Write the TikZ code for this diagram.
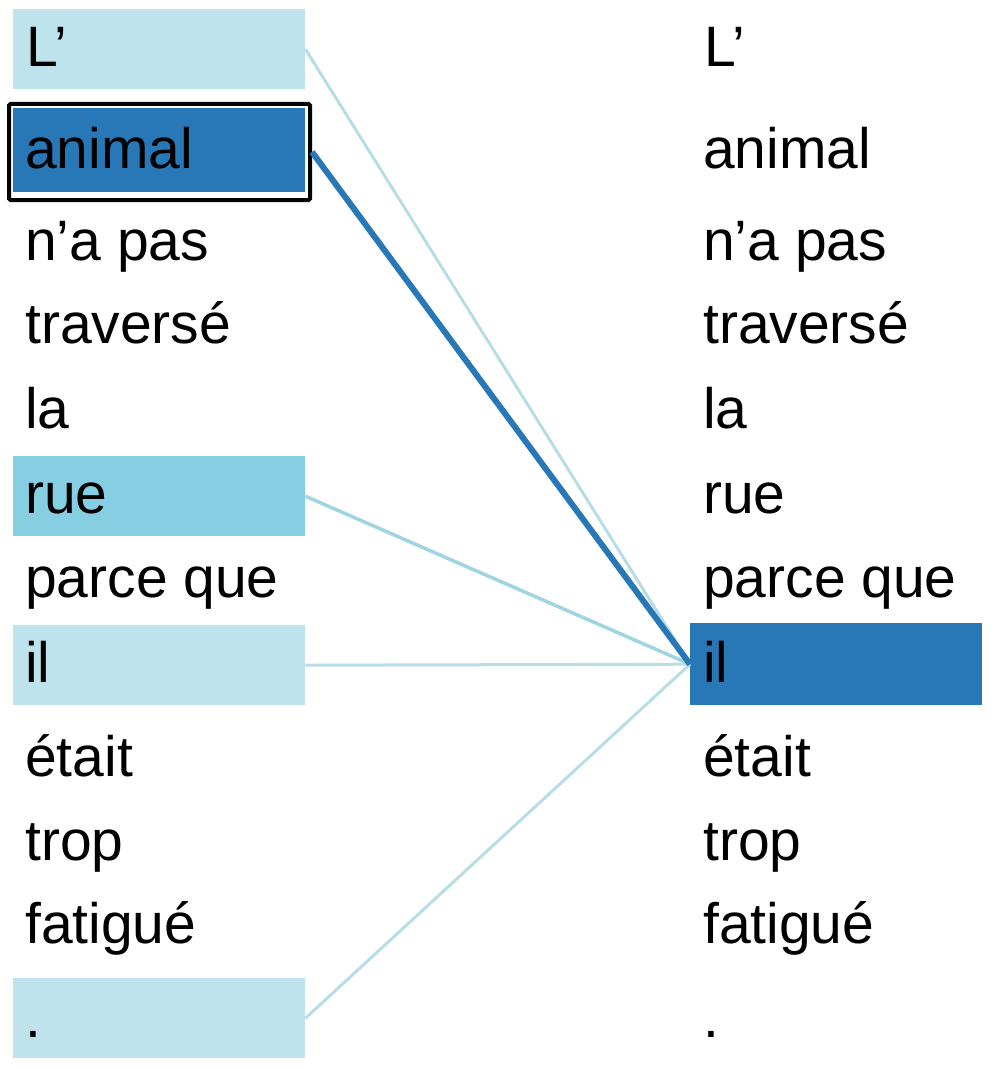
\documentclass[tikz,border=0pt]{standalone}
\usepackage{fontspec}
\setmainfont{Liberation Sans}
\definecolor{lightbox}{HTML}{BEE3EC}
\definecolor{ruebox}{HTML}{86CFE2}
\definecolor{darkbox}{HTML}{2878B8}
\definecolor{lightline}{HTML}{B6DDE8}
\definecolor{rueline}{HTML}{9FD4E3}
\begin{document}
\begin{tikzpicture}[x=1pt,y=-1pt,
  word/.style={anchor=base west, inner sep=0pt, font=\fontsize{57}{62}\selectfont},
  hbox/.style={anchor=north west, inner sep=0pt, minimum width=292pt, minimum height=80pt},
  thinlink/.style={draw=lightline, line width=3pt},
  ruelink/.style={draw=rueline, line width=3.5pt},
  darklink/.style={draw=darkbox, line width=6pt}]
\useasboundingbox (0,0) rectangle (992,1070);
% highlight boxes, left column
\node[hbox, fill=lightbox] (bL) at (13,9) {};
\node[hbox, fill=darkbox, minimum height=84pt] (bA) at (13,108) {};
\node[anchor=north west, inner sep=0pt, draw=black, line width=4pt, rounded corners=1.5pt, minimum width=301pt, minimum height=96pt] (bAo) at (7,102) {};
\node[hbox, fill=ruebox] (bR) at (13,456) {};
\node[hbox, fill=lightbox] (bI) at (13,625) {};
\node[hbox, fill=lightbox] (bD) at (13,978) {};
% highlight box, right column
\node[hbox, fill=darkbox, minimum height=82pt] (rI) at (690,623) {};
% words, left column
\node[word] (l0) at (26,67) {L’};
\node[word] (l1) at (25,168) {animal};
\node[word] (l2) at (25,260) {n’a pas};
\node[word] (l3) at (25,343) {traversé};
\node[word] (l4) at (25,428) {la};
\node[word] (l5) at (25,513) {rue};
\node[word] (l6) at (25,597) {parce que};
\node[word] (l7) at (25,682) {il};
\node[word] (l8) at (25,776) {était};
\node[word] (l9) at (25,860) {trop};
\node[word] (l10) at (25,943) {fatigué};
\node[word] (l11) at (25,1037) {.};
% words, right column
\node[word] (r0) at (704,67) {L’};
\node[word] (r1) at (703,168) {animal};
\node[word] (r2) at (703,260) {n’a pas};
\node[word] (r3) at (703,343) {traversé};
\node[word] (r4) at (703,428) {la};
\node[word] (r5) at (703,513) {rue};
\node[word] (r6) at (703,597) {parce que};
\node[word] (r7) at (703,682) {il};
\node[word] (r8) at (703,776) {était};
\node[word] (r9) at (703,860) {trop};
\node[word] (r10) at (703,943) {fatigué};
\node[word] (r11) at (703,1037) {.};
% attention links
\draw[thinlink] (bL.east) -- (rI.west);
\draw[thinlink] (bI.east) -- (rI.west);
\draw[thinlink] (bD.east) -- (rI.west);
\draw[ruelink] (bR.east) -- (rI.west);
\draw[darklink] (bAo.east) -- (rI.west);
\end{tikzpicture}
\end{document}
